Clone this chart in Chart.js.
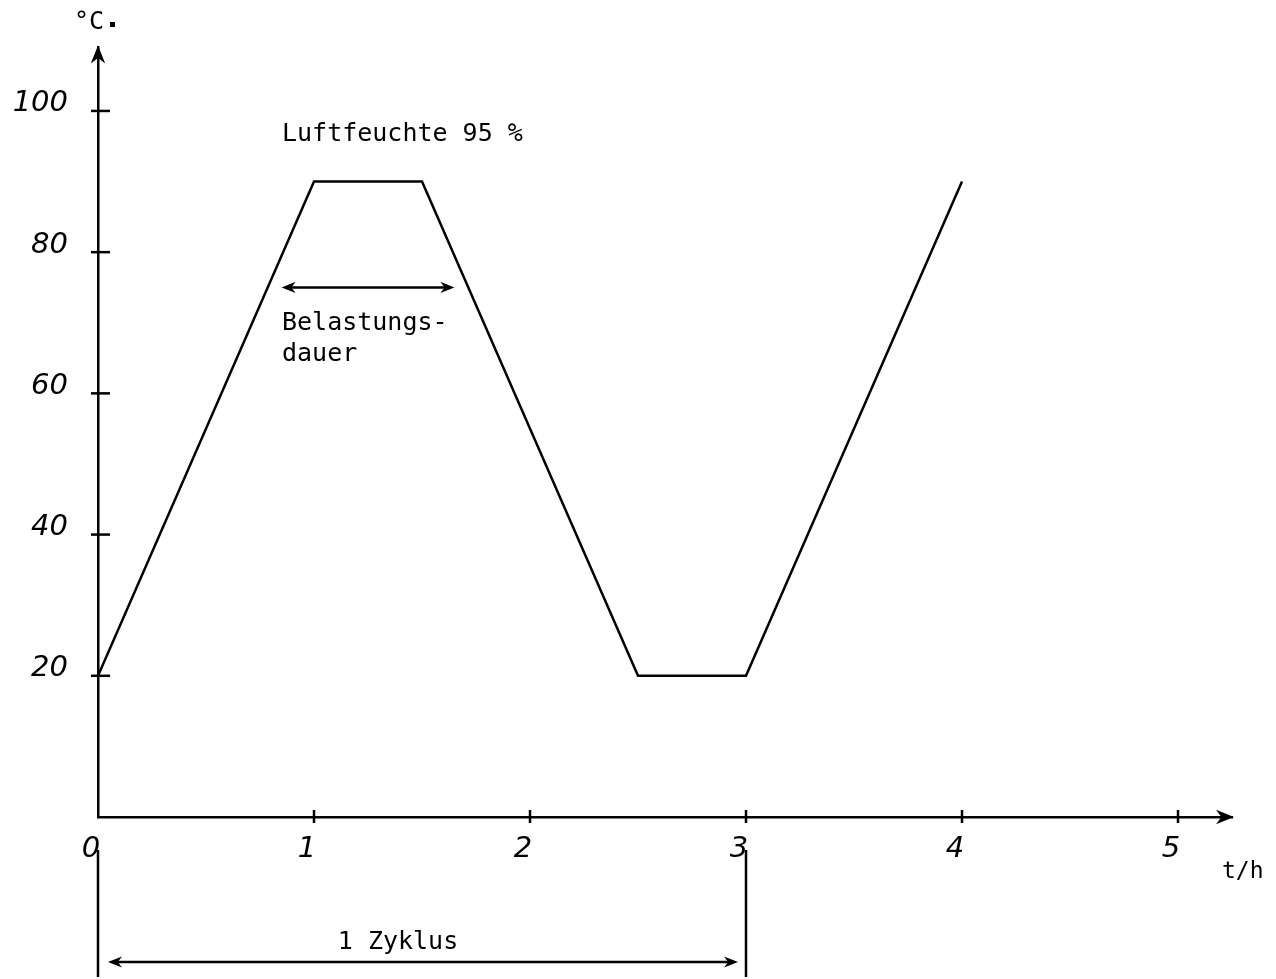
<!DOCTYPE html>
<html>
<head>
<meta charset="utf-8">
<script src="https://cdn.jsdelivr.net/npm/chart.js@4"></script>
<style>
  body { margin: 0; background: #fff; }
  canvas { display: block; }
</style>
</head>
<body>
<canvas id="myChart" width="1276" height="979"></canvas>
<script>
// Temperaturverlauf eines Zyklus
var hours = [0, 1, 1.5, 2.5, 3, 4];
var temps = [20, 90, 90, 20, 20, 90];
var xTicks = [0, 1, 2, 3, 4, 5];
var yTicks = [20, 40, 60, 80, 100];
var belastung = [0.85, 1.65, 75]; // von, bis, Höhe
var zyklus = [0, 3];

var monoFont = '"DejaVu Sans Mono", monospace';

function arrowHead(ctx, x, y, dx, dy, size) {
    var len = Math.sqrt(dx * dx + dy * dy);
    dx /= len; dy /= len;
    ctx.beginPath();
    ctx.moveTo(x, y);
    ctx.lineTo(x - dx * size - dy * size * 0.4, y - dy * size + dx * size * 0.4);
    ctx.lineTo(x - dx * size * 0.7, y - dy * size * 0.7);
    ctx.lineTo(x - dx * size + dy * size * 0.4, y - dy * size - dx * size * 0.4);
    ctx.closePath();
    ctx.fill();
}

function dblArrow(ctx, x1, x2, y) {
    ctx.beginPath();
    ctx.moveTo(x1 + 4, y);
    ctx.lineTo(x2 - 4, y);
    ctx.stroke();
    arrowHead(ctx, x1, y, -1, 0, 14);
    arrowHead(ctx, x2, y, 1, 0, 14);
}

var annotations = {
    id: 'annotations',
    afterDraw: function (chart) {
        var ctx = chart.ctx;
        var xs = chart.scales.x, ys = chart.scales.y;
        var area = chart.chartArea;
        ctx.save();
        ctx.strokeStyle = '#000';
        ctx.fillStyle = '#000';
        ctx.lineWidth = 2.5;

        // Achsenpfeile
        arrowHead(ctx, area.left, area.top - 2, 0, -1, 18);
        arrowHead(ctx, area.right + 2, area.bottom, 1, 0, 18);

        // Teilstriche als kleine Kreuze
        xTicks.forEach(function (v) {
            var px = xs.getPixelForValue(v);
            if (v === 0) return;
            ctx.beginPath();
            ctx.moveTo(px, area.bottom - 7);
            ctx.lineTo(px, area.bottom + 6);
            ctx.stroke();
        });
        yTicks.forEach(function (v) {
            var py = ys.getPixelForValue(v);
            ctx.beginPath();
            ctx.moveTo(area.left - 7, py);
            ctx.lineTo(area.left + 12, py);
            ctx.stroke();
        });

        // Einheiten
        ctx.font = '25px ' + monoFont;
        ctx.textBaseline = 'middle';
        ctx.textAlign = 'left';
        ctx.fillText('°C', area.left - 24, 22);
        ctx.fillRect(area.left + 12, 22, 5, 5);
        ctx.font = '23px ' + monoFont;
        ctx.fillText('t/h', area.right - 10, 872);

        // Luftfeuchte
        ctx.font = '25px ' + monoFont;
        ctx.fillText('Luftfeuchte 95 %', 282, 134);

        // Belastungsdauer
        var by = ys.getPixelForValue(belastung[2]);
        dblArrow(ctx, xs.getPixelForValue(belastung[0]), xs.getPixelForValue(belastung[1]), by);
        ctx.fillText('Belastungs-', 282, 323);
        ctx.fillText('dauer', 282, 354);

        // 1 Zyklus
        var z0 = xs.getPixelForValue(zyklus[0]);
        var z1 = xs.getPixelForValue(zyklus[1]);
        ctx.beginPath();
        ctx.moveTo(z0, 850); ctx.lineTo(z0, 977);
        ctx.moveTo(z1, 850); ctx.lineTo(z1, 977);
        ctx.stroke();
        dblArrow(ctx, z0 + 10, z1 - 8, 962);
        ctx.textAlign = 'center';
        ctx.fillText('1 Zyklus', 398, 942);
        ctx.restore();
    }
};

var ctx = document.getElementById("myChart");
var myChart = new Chart(ctx, {
    type: 'scatter',
    data: {
        datasets: [{
            data: hours.map(function (h, i) { return { x: h, y: temps[i] }; }),
            showLine: true,
            borderColor: '#000',
            borderWidth: 2.5,
            pointRadius: 0,
            tension: 0
        }]
    },
    options: {
        responsive: false,
        animation: false,
        layout: { padding: { top: 44, right: 44, left: 0, bottom: 0 } },
        plugins: {
            legend: { display: false },
            tooltip: { enabled: false }
        },
        scales: {
            x: {
                type: 'linear',
                min: 0,
                max: 5.25,
                afterFit: function (s) { s.height = 162; },
                afterBuildTicks: function (s) {
                    s.ticks = xTicks.map(function (v) { return { value: v }; });
                },
                grid: { display: true, drawOnChartArea: false, drawTicks: false },
                border: { display: true, color: '#000', width: 2.5 },
                ticks: {
                    color: '#000',
                    padding: 15,
                    labelOffset: -7,
                    maxRotation: 0,
                    font: { family: 'DejaVu Sans', style: 'italic', size: 29 },
                    callback: function (v) { return String(v); }
                }
            },
            y: {
                min: 0,
                max: 109,
                afterFit: function (s) { s.width = 98; },
                afterBuildTicks: function (s) {
                    s.ticks = yTicks.map(function (v) { return { value: v }; });
                },
                grid: { display: true, drawOnChartArea: false, drawTicks: false },
                border: { display: true, color: '#000', width: 2.5 },
                ticks: {
                    color: '#000',
                    padding: 30,
                    labelOffset: -7,
                    font: { family: 'DejaVu Sans', style: 'italic', size: 29 },
                    callback: function (v) { return String(v); }
                }
            }
        }
    },
    plugins: [annotations]
});
</script>
</body>
</html>
